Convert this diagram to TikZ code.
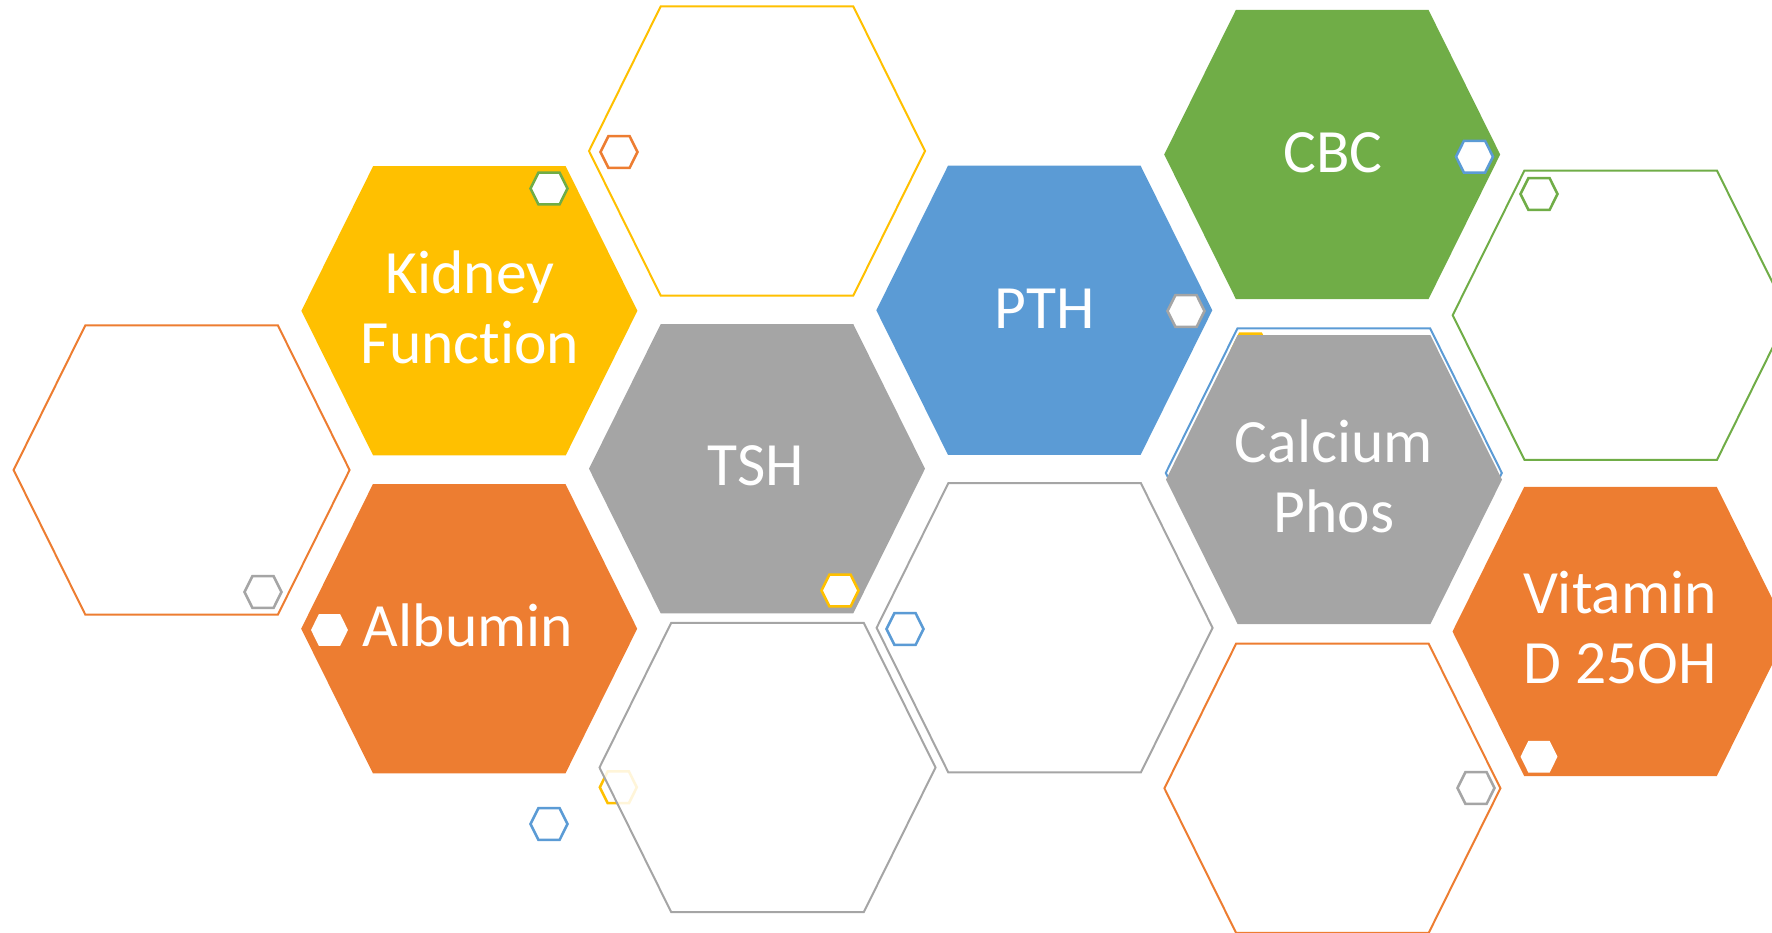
\documentclass[tikz,border=0pt]{standalone}
\usepackage{fontspec}
\setmainfont{Carlito}[Ligatures=NoCommon]

\definecolor{hexyellow}{HTML}{FFC000}
\definecolor{hexorange}{HTML}{ED7D31}
\definecolor{hexgray}{HTML}{A5A5A5}
\definecolor{hexblue}{HTML}{5B9BD5}
\definecolor{hexgreen}{HTML}{70AD47}

% flat-topped hexagon outline, centred on the origin (units: pixels)
\newcommand\hexcell{(-168,0) -- (-96.3,-144.6) -- (96.3,-144.6) -- (168,0) -- (96.3,144.6) -- (-96.3,144.6) -- cycle}

\tikzset{
  solidhex/.style={fill=#1, draw=none},
  openhex/.style={draw=#1, line width=0.57pt, fill=white},
  mini/.style={scale=0.11},
  minihex/.style={mini, draw=#1, line width=0.72pt, fill=white},
  miniwhite/.style={mini, fill=white, draw=none},
  label/.style={text=white, align=center, inner sep=0pt,
    font=\fontsize{17.5}{19.9}\selectfont},
}

\begin{document}
\begin{tikzpicture}[x=0.01cm, y=-0.01cm]
\useasboundingbox (0,0) rectangle (1772,933);
\clip (0,0) rectangle (1772,933);

% outlined cells
\path[shift={(181.6,470)},    openhex=hexorange] \hexcell;
\path[shift={(757,151)},      openhex=hexyellow] \hexcell;
\path[shift={(1620.7,315.2)}, openhex=hexgreen] \hexcell;
\path[shift={(1333.8,472.9)}, openhex=hexblue] \hexcell;
\path[shift={(1044.6,627.8)}, openhex=hexgray] \hexcell;
\path[shift={(1332.4,788.3)}, openhex=hexorange] \hexcell;

% small cells lying under larger ones
\path[shift={(618.3,787.3)},  minihex=hexyellow] \hexcell;
\path[shift={(1250.5,349.5)}, minihex=hexyellow] \hexcell;

% translucent cell over the small yellow one
\path[shift={(767.5,767.5)}, draw=hexgray, line width=0.57pt,
      fill=white, fill opacity=0.85] \hexcell;

% filled cells
\path[shift={(469.4,310.8)},  solidhex=hexyellow] \hexcell;
\path[shift={(757,468.7)},    solidhex=hexgray] \hexcell;
\path[shift={(1044.3,310.3)}, solidhex=hexblue] \hexcell;
\path[shift={(1332.2,154.5)}, solidhex=hexgreen] \hexcell;
\path[shift={(1334,479.6)},   solidhex=hexgray] \hexcell;
\path[shift={(1620.5,631.5)}, solidhex=hexorange] \hexcell;
\path[shift={(469.2,628.7)},  solidhex=hexorange] \hexcell;

% small accent cells
\path[shift={(549,188.5)},   minihex=hexgreen] \hexcell;
\path[shift={(619,152)},     minihex=hexorange] \hexcell;
\path[shift={(1186,311)},    minihex=hexgray] \hexcell;
\path[shift={(1474.5,156.7)},minihex=hexblue] \hexcell;
\path[shift={(1539,194)},    minihex=hexgreen] \hexcell;
\path[shift={(263,592)},     minihex=hexgray] \hexcell;
\path[shift={(549,824)},     minihex=hexblue] \hexcell;
\path[shift={(840,590.5)},   minihex=hexyellow] \hexcell;
\path[shift={(905,629)},     minihex=hexblue] \hexcell;
\path[shift={(1476,788)},    minihex=hexgray] \hexcell;
\path[shift={(329.5,630)},   miniwhite] \hexcell;
\path[shift={(1539,756.7)},  miniwhite] \hexcell;

% labels
\node[label] (kidney)  at (470,307.5)  {Kidney\\Function};
\node[label] (tsh)     at (756,466)    {TSH};
\node[label] (pth)     at (1044.5,308.5) {PTH};
\node[label] (cbc)     at (1333,152.5) {CBC};
\node[label] (calcium) at (1334,476.2) {Calcium\\Phos};
\node[label] (vitamin) at (1620,628)   {Vitamin\\D 25OH};
\node[label] (albumin) at (468,625)    {Albumin};
\end{tikzpicture}
\end{document}
